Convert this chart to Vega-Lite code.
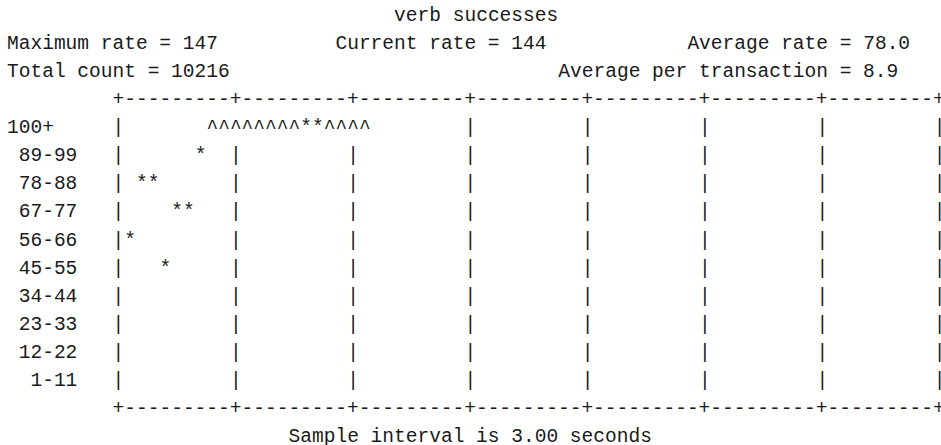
{
  "$schema": "https://vega.github.io/schema/vega-lite/v6.json",
  "width": 934,
  "height": 445,
  "autosize": {"type": "none"},
  "padding": {"left": 7, "top": 0, "right": 0, "bottom": 0},
  "background": "white",
  "config": {"view": {"stroke": null}},
  "datasets": {
    "text": [
      {"line": 0, "col": 33, "text": "verb successes"},
      {"line": 1, "col": 0, "text": "Maximum rate = 147"},
      {"line": 1, "col": 28, "text": "Current rate = 144"},
      {"line": 1, "col": 58, "text": "Average rate = 78.0"},
      {"line": 2, "col": 0, "text": "Total count = 10216"},
      {"line": 2, "col": 47, "text": "Average per transaction = 8.9"},
      {"line": 3, "col": 9, "text": "+---------+---------+---------+---------+---------+---------+---------+"},
      {"line": 4, "col": 0, "text": "100+"},
      {"line": 5, "col": 1, "text": "89-99"},
      {"line": 6, "col": 1, "text": "78-88"},
      {"line": 7, "col": 1, "text": "67-77"},
      {"line": 8, "col": 1, "text": "56-66"},
      {"line": 9, "col": 1, "text": "45-55"},
      {"line": 10, "col": 1, "text": "34-44"},
      {"line": 11, "col": 1, "text": "23-33"},
      {"line": 12, "col": 1, "text": "12-22"},
      {"line": 13, "col": 2, "text": "1-11"},
      {"line": 14, "col": 9, "text": "+---------+---------+---------+---------+---------+---------+---------+"},
      {"line": 15, "col": 24, "text": "Sample interval is 3.00 seconds"}
    ],
    "grid": [
      {"line": 4, "col": 9}, {"line": 4, "col": 39}, {"line": 4, "col": 49}, {"line": 4, "col": 59}, {"line": 4, "col": 69}, {"line": 4, "col": 79},
      {"line": 5, "col": 9}, {"line": 5, "col": 19}, {"line": 5, "col": 29}, {"line": 5, "col": 39}, {"line": 5, "col": 49}, {"line": 5, "col": 59}, {"line": 5, "col": 69}, {"line": 5, "col": 79},
      {"line": 6, "col": 9}, {"line": 6, "col": 19}, {"line": 6, "col": 29}, {"line": 6, "col": 39}, {"line": 6, "col": 49}, {"line": 6, "col": 59}, {"line": 6, "col": 69}, {"line": 6, "col": 79},
      {"line": 7, "col": 9}, {"line": 7, "col": 19}, {"line": 7, "col": 29}, {"line": 7, "col": 39}, {"line": 7, "col": 49}, {"line": 7, "col": 59}, {"line": 7, "col": 69}, {"line": 7, "col": 79},
      {"line": 8, "col": 9}, {"line": 8, "col": 19}, {"line": 8, "col": 29}, {"line": 8, "col": 39}, {"line": 8, "col": 49}, {"line": 8, "col": 59}, {"line": 8, "col": 69}, {"line": 8, "col": 79},
      {"line": 9, "col": 9}, {"line": 9, "col": 19}, {"line": 9, "col": 29}, {"line": 9, "col": 39}, {"line": 9, "col": 49}, {"line": 9, "col": 59}, {"line": 9, "col": 69}, {"line": 9, "col": 79},
      {"line": 10, "col": 9}, {"line": 10, "col": 19}, {"line": 10, "col": 29}, {"line": 10, "col": 39}, {"line": 10, "col": 49}, {"line": 10, "col": 59}, {"line": 10, "col": 69}, {"line": 10, "col": 79},
      {"line": 11, "col": 9}, {"line": 11, "col": 19}, {"line": 11, "col": 29}, {"line": 11, "col": 39}, {"line": 11, "col": 49}, {"line": 11, "col": 59}, {"line": 11, "col": 69}, {"line": 11, "col": 79},
      {"line": 12, "col": 9}, {"line": 12, "col": 19}, {"line": 12, "col": 29}, {"line": 12, "col": 39}, {"line": 12, "col": 49}, {"line": 12, "col": 59}, {"line": 12, "col": 69}, {"line": 12, "col": 79},
      {"line": 13, "col": 9}, {"line": 13, "col": 19}, {"line": 13, "col": 29}, {"line": 13, "col": 39}, {"line": 13, "col": 49}, {"line": 13, "col": 59}, {"line": 13, "col": 69}, {"line": 13, "col": 79}
    ],
    "samples": [
      {"col": 10, "line": 8, "range": "56-66", "symbol": "*"},
      {"col": 11, "line": 6, "range": "78-88", "symbol": "*"},
      {"col": 12, "line": 6, "range": "78-88", "symbol": "*"},
      {"col": 13, "line": 9, "range": "45-55", "symbol": "*"},
      {"col": 14, "line": 7, "range": "67-77", "symbol": "*"},
      {"col": 15, "line": 7, "range": "67-77", "symbol": "*"},
      {"col": 16, "line": 5, "range": "89-99", "symbol": "*"},
      {"col": 17, "line": 4, "range": "100+", "symbol": "^"},
      {"col": 18, "line": 4, "range": "100+", "symbol": "^"},
      {"col": 19, "line": 4, "range": "100+", "symbol": "^"},
      {"col": 20, "line": 4, "range": "100+", "symbol": "^"},
      {"col": 21, "line": 4, "range": "100+", "symbol": "^"},
      {"col": 22, "line": 4, "range": "100+", "symbol": "^"},
      {"col": 23, "line": 4, "range": "100+", "symbol": "^"},
      {"col": 24, "line": 4, "range": "100+", "symbol": "^"},
      {"col": 25, "line": 4, "range": "100+", "symbol": "*"},
      {"col": 26, "line": 4, "range": "100+", "symbol": "*"},
      {"col": 27, "line": 4, "range": "100+", "symbol": "^"},
      {"col": 28, "line": 4, "range": "100+", "symbol": "^"},
      {"col": 29, "line": 4, "range": "100+", "symbol": "^"},
      {"col": 30, "line": 4, "range": "100+", "symbol": "^"}
    ]
  },
  "encoding": {
    "x": {"field": "col", "type": "quantitative", "scale": {"domain": [0, 79.62], "nice": false, "zero": false}, "axis": null},
    "y": {"field": "line", "type": "quantitative", "scale": {"domain": [-0.534, 15.32], "reverse": true, "nice": false, "zero": false}, "axis": null}
  },
  "layer": [
    {
      "data": {"name": "text"},
      "mark": {"type": "text", "align": "left", "baseline": "middle", "font": "Liberation Mono", "fontSize": 19.55, "color": "#1a1a1a"},
      "encoding": {"text": {"field": "text", "type": "nominal"}}
    },
    {
      "data": {"name": "grid"},
      "mark": {"type": "text", "align": "left", "baseline": "middle", "font": "Liberation Mono", "fontSize": 19.55, "color": "#1a1a1a"},
      "encoding": {"text": {"value": "|"}}
    },
    {
      "data": {"name": "samples"},
      "mark": {"type": "text", "align": "left", "baseline": "middle", "font": "Liberation Mono", "fontSize": 19.55, "color": "#1a1a1a"},
      "encoding": {"text": {"field": "symbol", "type": "nominal"}}
    }
  ]
}
